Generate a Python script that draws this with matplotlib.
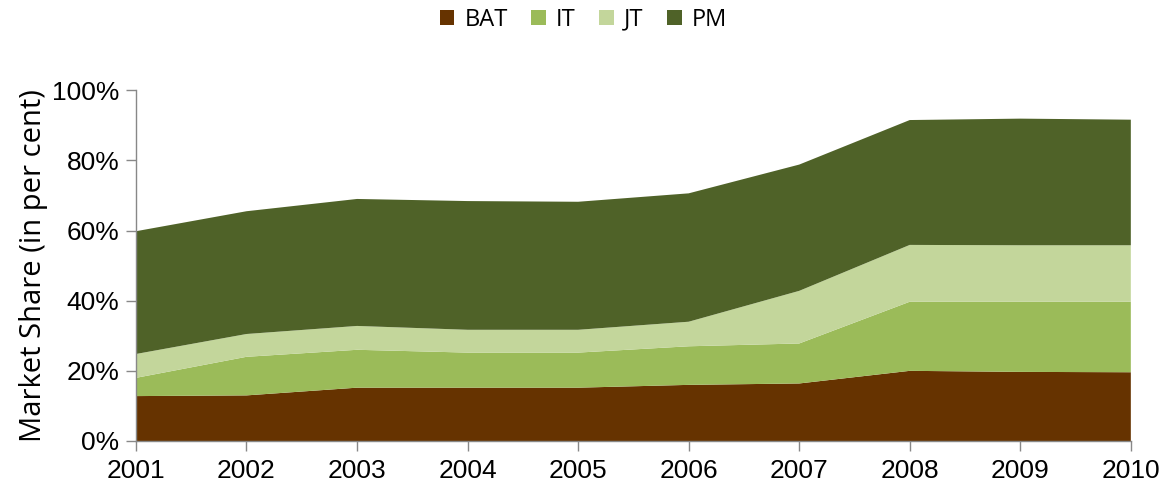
import matplotlib
matplotlib.use('Agg')
import matplotlib.pyplot as plt
from matplotlib.ticker import PercentFormatter

# Market share data (per cent)
years = [2001, 2002, 2003, 2004, 2005, 2006, 2007, 2008, 2009, 2010]
bat = [12.8, 13.0, 15.2, 15.2, 15.2, 16.0, 16.4, 20.0, 19.7, 19.6]
it = [5.2, 11.0, 10.8, 10.0, 10.0, 11.0, 11.4, 19.7, 20.0, 20.1]
jt = [6.8, 6.5, 6.8, 6.5, 6.5, 7.0, 15.0, 16.2, 16.1, 16.1]
pm = [35.0, 35.0, 36.2, 36.7, 36.5, 36.6, 36.0, 35.6, 36.1, 35.8]

names = ['BAT', 'IT', 'JT', 'PM']
colors = ['#663300', '#9BBB59', '#C3D69B', '#4F6228']

fig = plt.figure(figsize=(11.67, 4.93), dpi=100)
ax = fig.add_axes([0.1165, 0.1055, 0.8525, 0.7115])

ax.stackplot(years, bat, it, jt, pm, labels=names, colors=colors)

ax.set_xlim(2001, 2010)
ax.set_ylim(0, 100)
ax.set_xticks(years)
ax.set_yticks(range(0, 101, 20))
ax.yaxis.set_major_formatter(PercentFormatter(decimals=0))

for s in ['top', 'right']:
    ax.spines[s].set_visible(False)
for s in ['left', 'bottom']:
    ax.spines[s].set_color('#888888')
    ax.spines[s].set_linewidth(1)
ax.tick_params(axis='both', colors='#888888', length=7, width=1, direction='out',
               labelcolor='black', labelsize=19)
ax.tick_params(axis='x', pad=6)
ax.tick_params(axis='y', pad=5)
for lab in ax.get_xticklabels() + ax.get_yticklabels():
    lab.set_family('Liberation Sans')

ax.set_ylabel('Market Share (in per cent)', fontsize=21, family='Open Sans', labelpad=3)

ax.legend(loc='center', bbox_to_anchor=(0.5, 0.96), bbox_transform=fig.transFigure,
          ncol=4, frameon=False, prop={'family': 'Open Sans', 'size': 17},
          handlelength=0.6, handleheight=0.6, handletextpad=0.45, columnspacing=1.0)

fig.savefig('out.png', dpi=100)
